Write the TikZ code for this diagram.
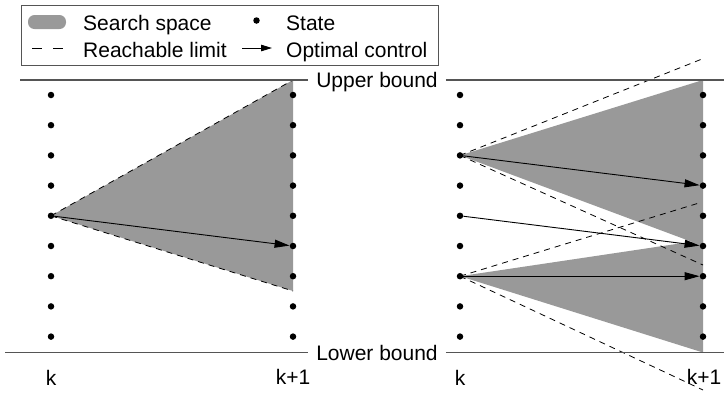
\documentclass[tikz,border=0pt]{standalone}
\usepackage{fontspec}
\setmainfont{Liberation Sans}
\usetikzlibrary{arrows.meta}
\definecolor{ssgray}{RGB}{153,153,153}
\definecolor{bndgray}{RGB}{85,85,85}
\begin{document}
\begin{tikzpicture}[x=1pt,y=-1pt,
  state/.style={circle,fill=black,inner sep=0pt,minimum size=6.5pt},
  sspace/.style={fill=ssgray,draw=none},
  reach/.style={draw=black,line width=0.8pt,dash pattern=on 6pt off 5pt},
  ctrl/.style={draw=black,line width=0.9pt,-{Triangle[length=15pt,width=8pt]}},
  bound/.style={draw=bndgray,line width=1.2pt},
  lbl/.style={font=\fontsize{21}{25}\selectfont,inner sep=0pt},
  bnd/.style={font=\fontsize{21}{25}\selectfont,inner xsep=8pt,inner ysep=0pt}
]
\useasboundingbox (0,0) rectangle (724,392);
% coordinates of the states
\foreach \c/\x in {a/51,b/293,c/460,d/703}{
  \foreach \i in {0,...,8}{
    \coordinate (p\c\i) at (\x,{95+30.2*\i});
  }
}
\coordinate (uby) at (0,80);
\coordinate (lby) at (0,352.5);
% left search space
\coordinate (lt) at (293,80);
\coordinate (lb) at (293,291);
\fill[sspace] (pa4) -- (lt) -- (lb) -- cycle;
\draw[reach] (pa4) -- (lt);
\draw[reach] (pa4) -- (lb);
% right search spaces
\coordinate (rt1) at (703,80);
\coordinate (rb1) at (703,246);
\coordinate (rt2) at (703,240);
\coordinate (rb2) at (703,352.5);
\fill[sspace] (pc2) -- (rt1) -- (rb1) -- cycle;
\fill[sspace] (pc6) -- (rt2) -- (rb2) -- cycle;
\coordinate (e1) at (702,59);
\coordinate (e2) at (703,265);
\coordinate (e3) at (699,203);
\coordinate (e4) at (703,390);
\draw[reach] (pc2) -- (e1);
\draw[reach] (pc2) -- (e2);
\draw[reach] (pc6) -- (e3);
\draw[reach] (pc6) -- (e4);
% bounds
\node[bnd,anchor=base] (ub) at (377,87) {Upper bound};
\node[bnd,anchor=base] (lbd) at (377,360.5) {Lower bound};
\coordinate (ul) at (20,80);
\coordinate (ur) at (724,80);
\coordinate (ll) at (5,352.5);
\coordinate (lr) at (724,352.5);
\draw[bound] (ul) -- (ub.west |- uby);
\draw[bound] (ub.east |- uby) -- (ur);
\draw[bound] (ll) -- (lbd.west |- lby);
\draw[bound] (lbd.east |- lby) -- (lr);
% states
\foreach \c in {a,b,c,d}{
  \foreach \i in {0,...,8}{
    \node[state] (\c\i) at (p\c\i) {};
  }
}
% optimal controls
\draw[ctrl] (a4) -- (b5);
\draw[ctrl] (c2) -- (d3);
\draw[ctrl] (c4) -- (d5);
\draw[ctrl] (c6) -- (d6);
% stage labels
\node[lbl,anchor=base] (k1) at (51,385) {k};
\node[lbl,anchor=base] (k2) at (293,384) {k+1};
\node[lbl,anchor=base] (k3) at (460,385) {k};
\node[lbl,anchor=base] (k4) at (704,384) {k+1};
% legend
\draw[draw=bndgray,line width=1pt] (21,5) rectangle (438,65);
\fill[ssgray,rounded corners=6.5pt] (28,15) rectangle (66,29);
\coordinate (lg1) at (32,48);
\coordinate (lg2) at (66,48);
\draw[draw=black,line width=0.8pt,dash pattern=on 10pt off 11pt] (lg1) -- (lg2);
\node[state] (lgdot) at (256.5,20.5) {};
\coordinate (lg3) at (242,48);
\coordinate (lg4) at (272,48);
\draw[draw=black,line width=1pt,-{Triangle[length=11pt,width=6.5pt]}] (lg3) -- (lg4);
\node[lbl,anchor=base west] (t1) at (83,30) {Search space};
\node[lbl,anchor=base west] (t2) at (83,57.5) {Reachable limit};
\node[lbl,anchor=base west] (t3) at (286,30) {State};
\node[lbl,anchor=base west] (t4) at (286,57.5) {Optimal control};
\end{tikzpicture}
\end{document}
